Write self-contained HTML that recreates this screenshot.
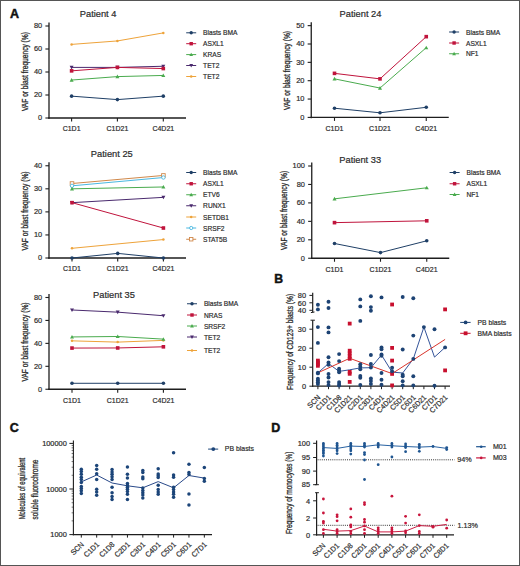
<!DOCTYPE html>
<html><head><meta charset="utf-8"><style>
html,body{margin:0;padding:0;background:#fff;}
#f{position:relative;width:520px;height:566px;overflow:hidden;}
#b{position:absolute;left:0;top:0;width:518px;height:564px;border:1px solid #555;}
svg{position:absolute;left:0;top:0;}
text{font-family:"Liberation Sans", sans-serif;}
</style></head><body><div id="f">
<svg width="520" height="566" viewBox="0 0 520 566">
<text x="0" y="0" font-size="12.5" text-anchor="start" font-weight="bold" fill="#111" transform="translate(10.00 18.20)" stroke="#111" stroke-width="0.45">A</text>
<text x="0" y="0" font-size="12.2" text-anchor="start" font-weight="bold" fill="#111" transform="translate(274.30 283.40)" stroke="#111" stroke-width="0.45">B</text>
<text x="0" y="0" font-size="12.5" text-anchor="start" font-weight="bold" fill="#111" transform="translate(9.80 431.60)" stroke="#111" stroke-width="0.45">C</text>
<text x="0" y="0" font-size="12.5" text-anchor="start" font-weight="bold" fill="#111" transform="translate(271.30 431.50)" stroke="#111" stroke-width="0.45">D</text>
<text x="0" y="0" font-size="9.3" text-anchor="middle" font-weight="normal" fill="#2b2b2b" transform="translate(98.10 16.90)" stroke="#2b2b2b" stroke-width="0.2">Patient 4</text>
<line x1="49.00" y1="22.60" x2="49.00" y2="118.75" stroke="#1e1e1e" stroke-width="1.3"/>
<line x1="45.40" y1="118.00" x2="49.00" y2="118.00" stroke="#1e1e1e" stroke-width="1.1"/>
<text x="0" y="0" font-size="8.0" text-anchor="end" font-weight="normal" fill="#2b2b2b" transform="translate(42.20 120.40) scale(0.93 1)" stroke="#2b2b2b" stroke-width="0.2">0</text>
<line x1="45.40" y1="95.00" x2="49.00" y2="95.00" stroke="#1e1e1e" stroke-width="1.1"/>
<text x="0" y="0" font-size="8.0" text-anchor="end" font-weight="normal" fill="#2b2b2b" transform="translate(42.20 97.40) scale(0.93 1)" stroke="#2b2b2b" stroke-width="0.2">20</text>
<line x1="45.40" y1="72.00" x2="49.00" y2="72.00" stroke="#1e1e1e" stroke-width="1.1"/>
<text x="0" y="0" font-size="8.0" text-anchor="end" font-weight="normal" fill="#2b2b2b" transform="translate(42.20 74.40) scale(0.93 1)" stroke="#2b2b2b" stroke-width="0.2">40</text>
<line x1="45.40" y1="49.00" x2="49.00" y2="49.00" stroke="#1e1e1e" stroke-width="1.1"/>
<text x="0" y="0" font-size="8.0" text-anchor="end" font-weight="normal" fill="#2b2b2b" transform="translate(42.20 51.40) scale(0.93 1)" stroke="#2b2b2b" stroke-width="0.2">60</text>
<line x1="45.40" y1="26.00" x2="49.00" y2="26.00" stroke="#1e1e1e" stroke-width="1.1"/>
<text x="0" y="0" font-size="8.0" text-anchor="end" font-weight="normal" fill="#2b2b2b" transform="translate(42.20 28.40) scale(0.93 1)" stroke="#2b2b2b" stroke-width="0.2">80</text>
<line x1="48.35" y1="118.00" x2="186.00" y2="118.00" stroke="#1e1e1e" stroke-width="1.3"/>
<line x1="71.60" y1="118.00" x2="71.60" y2="121.50" stroke="#1e1e1e" stroke-width="1.1"/>
<text x="0" y="0" font-size="7.7" text-anchor="middle" font-weight="normal" fill="#2b2b2b" transform="translate(71.60 131.30) scale(0.91 1)" stroke="#2b2b2b" stroke-width="0.2">C1D1</text>
<line x1="117.40" y1="118.00" x2="117.40" y2="121.50" stroke="#1e1e1e" stroke-width="1.1"/>
<text x="0" y="0" font-size="7.7" text-anchor="middle" font-weight="normal" fill="#2b2b2b" transform="translate(117.40 131.30) scale(0.91 1)" stroke="#2b2b2b" stroke-width="0.2">C1D21</text>
<line x1="163.30" y1="118.00" x2="163.30" y2="121.50" stroke="#1e1e1e" stroke-width="1.1"/>
<text x="0" y="0" font-size="7.7" text-anchor="middle" font-weight="normal" fill="#2b2b2b" transform="translate(163.30 131.30) scale(0.91 1)" stroke="#2b2b2b" stroke-width="0.2">C4D21</text>
<text x="0" y="0" font-size="8.3" text-anchor="middle" font-weight="normal" fill="#2b2b2b" transform="translate(27.60 71.60) rotate(-90)" textLength="79.00" lengthAdjust="spacingAndGlyphs" stroke="#2b2b2b" stroke-width="0.3">VAF or blast frequency (%)</text>
<polyline points="71.60,44.40 117.40,40.95 163.30,32.90" fill="none" stroke="#eea33a" stroke-width="1.0" stroke-linejoin="round"/>
<circle cx="71.60" cy="44.40" r="1.26" fill="#eea33a"/>
<circle cx="117.40" cy="40.95" r="1.26" fill="#eea33a"/>
<circle cx="163.30" cy="32.90" r="1.26" fill="#eea33a"/>
<polyline points="71.60,67.40 117.40,67.40 163.30,66.25" fill="none" stroke="#4a2a6e" stroke-width="1.0" stroke-linejoin="round"/>
<polygon points="71.60,69.40 73.60,65.80 69.60,65.80" fill="#4a2a6e"/>
<polygon points="117.40,69.40 119.40,65.80 115.40,65.80" fill="#4a2a6e"/>
<polygon points="163.30,68.25 165.30,64.65 161.30,64.65" fill="#4a2a6e"/>
<polyline points="71.60,80.05 117.40,76.60 163.30,75.45" fill="none" stroke="#4aab4e" stroke-width="1.0" stroke-linejoin="round"/>
<polygon points="71.60,78.05 73.60,81.65 69.60,81.65" fill="#4aab4e"/>
<polygon points="117.40,74.60 119.40,78.20 115.40,78.20" fill="#4aab4e"/>
<polygon points="163.30,73.45 165.30,77.05 161.30,77.05" fill="#4aab4e"/>
<polyline points="71.60,70.85 117.40,67.40 163.30,68.55" fill="none" stroke="#c0143c" stroke-width="1.0" stroke-linejoin="round"/>
<rect x="69.80" y="69.05" width="3.60" height="3.60" fill="#c0143c"/>
<rect x="115.60" y="65.60" width="3.60" height="3.60" fill="#c0143c"/>
<rect x="161.50" y="66.75" width="3.60" height="3.60" fill="#c0143c"/>
<polyline points="71.60,96.15 117.40,99.60 163.30,96.15" fill="none" stroke="#1f3f66" stroke-width="1.0" stroke-linejoin="round"/>
<circle cx="71.60" cy="96.15" r="1.80" fill="#1f3f66"/>
<circle cx="117.40" cy="99.60" r="1.80" fill="#1f3f66"/>
<circle cx="163.30" cy="96.15" r="1.80" fill="#1f3f66"/>
<line x1="186.20" y1="32.80" x2="196.20" y2="32.80" stroke="#1f3f66" stroke-width="1.0"/>
<circle cx="191.20" cy="32.80" r="1.71" fill="#1f3f66"/>
<text x="0" y="0" font-size="7.3" text-anchor="start" font-weight="normal" fill="#2b2b2b" transform="translate(203.10 35.40) scale(0.91 1)" stroke="#2b2b2b" stroke-width="0.2">Blasts BMA</text>
<line x1="186.20" y1="43.70" x2="196.20" y2="43.70" stroke="#c0143c" stroke-width="1.0"/>
<rect x="189.49" y="41.99" width="3.42" height="3.42" fill="#c0143c"/>
<text x="0" y="0" font-size="7.3" text-anchor="start" font-weight="normal" fill="#2b2b2b" transform="translate(203.10 46.30) scale(0.91 1)" stroke="#2b2b2b" stroke-width="0.2">ASXL1</text>
<line x1="186.20" y1="54.60" x2="196.20" y2="54.60" stroke="#4aab4e" stroke-width="1.0"/>
<polygon points="191.20,52.70 193.10,56.12 189.30,56.12" fill="#4aab4e"/>
<text x="0" y="0" font-size="7.3" text-anchor="start" font-weight="normal" fill="#2b2b2b" transform="translate(203.10 57.20) scale(0.91 1)" stroke="#2b2b2b" stroke-width="0.2">KRAS</text>
<line x1="186.20" y1="65.50" x2="196.20" y2="65.50" stroke="#4a2a6e" stroke-width="1.0"/>
<polygon points="191.20,67.40 193.10,63.98 189.30,63.98" fill="#4a2a6e"/>
<text x="0" y="0" font-size="7.3" text-anchor="start" font-weight="normal" fill="#2b2b2b" transform="translate(203.10 68.10) scale(0.91 1)" stroke="#2b2b2b" stroke-width="0.2">TET2</text>
<line x1="186.20" y1="76.50" x2="196.20" y2="76.50" stroke="#eea33a" stroke-width="1.0"/>
<circle cx="191.20" cy="76.50" r="1.26" fill="#eea33a"/>
<text x="0" y="0" font-size="7.3" text-anchor="start" font-weight="normal" fill="#2b2b2b" transform="translate(203.10 79.10) scale(0.91 1)" stroke="#2b2b2b" stroke-width="0.2">TET2</text>
<text x="0" y="0" font-size="9.3" text-anchor="middle" font-weight="normal" fill="#2b2b2b" transform="translate(360.50 17.00)" stroke="#2b2b2b" stroke-width="0.2">Patient 24</text>
<line x1="311.25" y1="22.25" x2="311.25" y2="118.15" stroke="#1e1e1e" stroke-width="1.3"/>
<line x1="307.65" y1="117.40" x2="311.25" y2="117.40" stroke="#1e1e1e" stroke-width="1.1"/>
<text x="0" y="0" font-size="8.0" text-anchor="end" font-weight="normal" fill="#2b2b2b" transform="translate(304.45 119.80) scale(0.93 1)" stroke="#2b2b2b" stroke-width="0.2">0</text>
<line x1="307.65" y1="99.05" x2="311.25" y2="99.05" stroke="#1e1e1e" stroke-width="1.1"/>
<text x="0" y="0" font-size="8.0" text-anchor="end" font-weight="normal" fill="#2b2b2b" transform="translate(304.45 101.45) scale(0.93 1)" stroke="#2b2b2b" stroke-width="0.2">10</text>
<line x1="307.65" y1="80.70" x2="311.25" y2="80.70" stroke="#1e1e1e" stroke-width="1.1"/>
<text x="0" y="0" font-size="8.0" text-anchor="end" font-weight="normal" fill="#2b2b2b" transform="translate(304.45 83.10) scale(0.93 1)" stroke="#2b2b2b" stroke-width="0.2">20</text>
<line x1="307.65" y1="62.35" x2="311.25" y2="62.35" stroke="#1e1e1e" stroke-width="1.1"/>
<text x="0" y="0" font-size="8.0" text-anchor="end" font-weight="normal" fill="#2b2b2b" transform="translate(304.45 64.75) scale(0.93 1)" stroke="#2b2b2b" stroke-width="0.2">30</text>
<line x1="307.65" y1="44.00" x2="311.25" y2="44.00" stroke="#1e1e1e" stroke-width="1.1"/>
<text x="0" y="0" font-size="8.0" text-anchor="end" font-weight="normal" fill="#2b2b2b" transform="translate(304.45 46.40) scale(0.93 1)" stroke="#2b2b2b" stroke-width="0.2">40</text>
<line x1="307.65" y1="25.65" x2="311.25" y2="25.65" stroke="#1e1e1e" stroke-width="1.1"/>
<text x="0" y="0" font-size="8.0" text-anchor="end" font-weight="normal" fill="#2b2b2b" transform="translate(304.45 28.05) scale(0.93 1)" stroke="#2b2b2b" stroke-width="0.2">50</text>
<line x1="310.60" y1="117.40" x2="448.75" y2="117.40" stroke="#1e1e1e" stroke-width="1.3"/>
<line x1="334.50" y1="117.40" x2="334.50" y2="120.90" stroke="#1e1e1e" stroke-width="1.1"/>
<text x="0" y="0" font-size="7.7" text-anchor="middle" font-weight="normal" fill="#2b2b2b" transform="translate(334.50 130.70) scale(0.91 1)" stroke="#2b2b2b" stroke-width="0.2">C1D1</text>
<line x1="380.00" y1="117.40" x2="380.00" y2="120.90" stroke="#1e1e1e" stroke-width="1.1"/>
<text x="0" y="0" font-size="7.7" text-anchor="middle" font-weight="normal" fill="#2b2b2b" transform="translate(380.00 130.70) scale(0.91 1)" stroke="#2b2b2b" stroke-width="0.2">C1D21</text>
<line x1="426.25" y1="117.40" x2="426.25" y2="120.90" stroke="#1e1e1e" stroke-width="1.1"/>
<text x="0" y="0" font-size="7.7" text-anchor="middle" font-weight="normal" fill="#2b2b2b" transform="translate(426.25 130.70) scale(0.91 1)" stroke="#2b2b2b" stroke-width="0.2">C4D21</text>
<text x="0" y="0" font-size="8.3" text-anchor="middle" font-weight="normal" fill="#2b2b2b" transform="translate(290.00 70.50) rotate(-90)" textLength="79.00" lengthAdjust="spacingAndGlyphs" stroke="#2b2b2b" stroke-width="0.3">VAF or blast frequency (%)</text>
<polyline points="334.50,78.87 380.00,88.04 426.25,47.67" fill="none" stroke="#4aab4e" stroke-width="1.0" stroke-linejoin="round"/>
<polygon points="334.50,76.87 336.50,80.47 332.50,80.47" fill="#4aab4e"/>
<polygon points="380.00,86.04 382.00,89.64 378.00,89.64" fill="#4aab4e"/>
<polygon points="426.25,45.67 428.25,49.27 424.25,49.27" fill="#4aab4e"/>
<polyline points="334.50,73.36 380.00,78.87 426.25,36.66" fill="none" stroke="#c0143c" stroke-width="1.0" stroke-linejoin="round"/>
<rect x="332.70" y="71.56" width="3.60" height="3.60" fill="#c0143c"/>
<rect x="378.20" y="77.07" width="3.60" height="3.60" fill="#c0143c"/>
<rect x="424.45" y="34.86" width="3.60" height="3.60" fill="#c0143c"/>
<polyline points="334.50,108.23 380.00,112.81 426.25,107.31" fill="none" stroke="#1f3f66" stroke-width="1.0" stroke-linejoin="round"/>
<circle cx="334.50" cy="108.23" r="1.80" fill="#1f3f66"/>
<circle cx="380.00" cy="112.81" r="1.80" fill="#1f3f66"/>
<circle cx="426.25" cy="107.31" r="1.80" fill="#1f3f66"/>
<line x1="449.10" y1="32.00" x2="459.10" y2="32.00" stroke="#1f3f66" stroke-width="1.0"/>
<circle cx="454.10" cy="32.00" r="1.71" fill="#1f3f66"/>
<text x="0" y="0" font-size="7.3" text-anchor="start" font-weight="normal" fill="#2b2b2b" transform="translate(466.00 34.60) scale(0.91 1)" stroke="#2b2b2b" stroke-width="0.2">Blasts BMA</text>
<line x1="449.10" y1="43.00" x2="459.10" y2="43.00" stroke="#c0143c" stroke-width="1.0"/>
<rect x="452.39" y="41.29" width="3.42" height="3.42" fill="#c0143c"/>
<text x="0" y="0" font-size="7.3" text-anchor="start" font-weight="normal" fill="#2b2b2b" transform="translate(466.00 45.60) scale(0.91 1)" stroke="#2b2b2b" stroke-width="0.2">ASXL1</text>
<line x1="449.10" y1="53.75" x2="459.10" y2="53.75" stroke="#4aab4e" stroke-width="1.0"/>
<polygon points="454.10,51.85 456.00,55.27 452.20,55.27" fill="#4aab4e"/>
<text x="0" y="0" font-size="7.3" text-anchor="start" font-weight="normal" fill="#2b2b2b" transform="translate(466.00 56.35) scale(0.91 1)" stroke="#2b2b2b" stroke-width="0.2">NF1</text>
<text x="0" y="0" font-size="9.3" text-anchor="middle" font-weight="normal" fill="#2b2b2b" transform="translate(111.80 157.20)" stroke="#2b2b2b" stroke-width="0.2">Patient 25</text>
<line x1="49.00" y1="162.36" x2="49.00" y2="258.75" stroke="#1e1e1e" stroke-width="1.3"/>
<line x1="45.40" y1="258.00" x2="49.00" y2="258.00" stroke="#1e1e1e" stroke-width="1.1"/>
<text x="0" y="0" font-size="8.0" text-anchor="end" font-weight="normal" fill="#2b2b2b" transform="translate(42.20 260.40) scale(0.93 1)" stroke="#2b2b2b" stroke-width="0.2">0</text>
<line x1="45.40" y1="234.94" x2="49.00" y2="234.94" stroke="#1e1e1e" stroke-width="1.1"/>
<text x="0" y="0" font-size="8.0" text-anchor="end" font-weight="normal" fill="#2b2b2b" transform="translate(42.20 237.34) scale(0.93 1)" stroke="#2b2b2b" stroke-width="0.2">10</text>
<line x1="45.40" y1="211.88" x2="49.00" y2="211.88" stroke="#1e1e1e" stroke-width="1.1"/>
<text x="0" y="0" font-size="8.0" text-anchor="end" font-weight="normal" fill="#2b2b2b" transform="translate(42.20 214.28) scale(0.93 1)" stroke="#2b2b2b" stroke-width="0.2">20</text>
<line x1="45.40" y1="188.82" x2="49.00" y2="188.82" stroke="#1e1e1e" stroke-width="1.1"/>
<text x="0" y="0" font-size="8.0" text-anchor="end" font-weight="normal" fill="#2b2b2b" transform="translate(42.20 191.22) scale(0.93 1)" stroke="#2b2b2b" stroke-width="0.2">30</text>
<line x1="45.40" y1="165.76" x2="49.00" y2="165.76" stroke="#1e1e1e" stroke-width="1.1"/>
<text x="0" y="0" font-size="8.0" text-anchor="end" font-weight="normal" fill="#2b2b2b" transform="translate(42.20 168.16) scale(0.93 1)" stroke="#2b2b2b" stroke-width="0.2">40</text>
<line x1="48.35" y1="258.00" x2="186.00" y2="258.00" stroke="#1e1e1e" stroke-width="1.3"/>
<line x1="72.00" y1="258.00" x2="72.00" y2="261.50" stroke="#1e1e1e" stroke-width="1.1"/>
<text x="0" y="0" font-size="7.7" text-anchor="middle" font-weight="normal" fill="#2b2b2b" transform="translate(72.00 271.30) scale(0.91 1)" stroke="#2b2b2b" stroke-width="0.2">C1D1</text>
<line x1="117.70" y1="258.00" x2="117.70" y2="261.50" stroke="#1e1e1e" stroke-width="1.1"/>
<text x="0" y="0" font-size="7.7" text-anchor="middle" font-weight="normal" fill="#2b2b2b" transform="translate(117.70 271.30) scale(0.91 1)" stroke="#2b2b2b" stroke-width="0.2">C1D21</text>
<line x1="163.40" y1="258.00" x2="163.40" y2="261.50" stroke="#1e1e1e" stroke-width="1.1"/>
<text x="0" y="0" font-size="7.7" text-anchor="middle" font-weight="normal" fill="#2b2b2b" transform="translate(163.40 271.30) scale(0.91 1)" stroke="#2b2b2b" stroke-width="0.2">C4D21</text>
<text x="0" y="0" font-size="8.3" text-anchor="middle" font-weight="normal" fill="#2b2b2b" transform="translate(27.70 211.00) rotate(-90)" textLength="79.00" lengthAdjust="spacingAndGlyphs" stroke="#2b2b2b" stroke-width="0.3">VAF or blast frequency (%)</text>
<polyline points="72.00,183.52 163.40,175.45" fill="none" stroke="#d0884a" stroke-width="1.0" stroke-linejoin="round"/>
<rect x="70.20" y="181.72" width="3.60" height="3.60" fill="#fff" stroke="#d0884a" stroke-width="0.9"/>
<rect x="161.60" y="173.65" width="3.60" height="3.60" fill="#fff" stroke="#d0884a" stroke-width="0.9"/>
<polyline points="72.00,185.82 163.40,177.52" fill="none" stroke="#4ab8e0" stroke-width="1.0" stroke-linejoin="round"/>
<circle cx="72.00" cy="185.82" r="1.70" fill="#fff" stroke="#4ab8e0" stroke-width="0.9"/>
<circle cx="163.40" cy="177.52" r="1.70" fill="#fff" stroke="#4ab8e0" stroke-width="0.9"/>
<polyline points="72.00,248.31 163.40,239.55" fill="none" stroke="#eea33a" stroke-width="1.0" stroke-linejoin="round"/>
<circle cx="72.00" cy="248.31" r="1.26" fill="#eea33a"/>
<circle cx="163.40" cy="239.55" r="1.26" fill="#eea33a"/>
<polyline points="72.00,202.66 163.40,197.35" fill="none" stroke="#4a2a6e" stroke-width="1.0" stroke-linejoin="round"/>
<polygon points="72.00,204.66 74.00,201.06 70.00,201.06" fill="#4a2a6e"/>
<polygon points="163.40,199.35 165.40,195.75 161.40,195.75" fill="#4a2a6e"/>
<polyline points="72.00,188.82 163.40,186.98" fill="none" stroke="#4aab4e" stroke-width="1.0" stroke-linejoin="round"/>
<polygon points="72.00,186.82 74.00,190.42 70.00,190.42" fill="#4aab4e"/>
<polygon points="163.40,184.98 165.40,188.58 161.40,188.58" fill="#4aab4e"/>
<polyline points="72.00,202.66 163.40,228.02" fill="none" stroke="#c0143c" stroke-width="1.0" stroke-linejoin="round"/>
<rect x="70.20" y="200.86" width="3.60" height="3.60" fill="#c0143c"/>
<rect x="161.60" y="226.22" width="3.60" height="3.60" fill="#c0143c"/>
<polyline points="72.00,258.00 117.70,253.39 163.40,258.00" fill="none" stroke="#1f3f66" stroke-width="1.0" stroke-linejoin="round"/>
<circle cx="72.00" cy="258.00" r="1.80" fill="#1f3f66"/>
<circle cx="117.70" cy="253.39" r="1.80" fill="#1f3f66"/>
<circle cx="163.40" cy="258.00" r="1.80" fill="#1f3f66"/>
<line x1="186.20" y1="172.50" x2="196.20" y2="172.50" stroke="#1f3f66" stroke-width="1.0"/>
<circle cx="191.20" cy="172.50" r="1.71" fill="#1f3f66"/>
<text x="0" y="0" font-size="7.3" text-anchor="start" font-weight="normal" fill="#2b2b2b" transform="translate(203.10 175.10) scale(0.91 1)" stroke="#2b2b2b" stroke-width="0.2">Blasts BMA</text>
<line x1="186.20" y1="183.75" x2="196.20" y2="183.75" stroke="#c0143c" stroke-width="1.0"/>
<rect x="189.49" y="182.04" width="3.42" height="3.42" fill="#c0143c"/>
<text x="0" y="0" font-size="7.3" text-anchor="start" font-weight="normal" fill="#2b2b2b" transform="translate(203.10 186.35) scale(0.91 1)" stroke="#2b2b2b" stroke-width="0.2">ASXL1</text>
<line x1="186.20" y1="194.75" x2="196.20" y2="194.75" stroke="#4aab4e" stroke-width="1.0"/>
<polygon points="191.20,192.85 193.10,196.27 189.30,196.27" fill="#4aab4e"/>
<text x="0" y="0" font-size="7.3" text-anchor="start" font-weight="normal" fill="#2b2b2b" transform="translate(203.10 197.35) scale(0.91 1)" stroke="#2b2b2b" stroke-width="0.2">ETV6</text>
<line x1="186.20" y1="205.75" x2="196.20" y2="205.75" stroke="#4a2a6e" stroke-width="1.0"/>
<polygon points="191.20,207.65 193.10,204.23 189.30,204.23" fill="#4a2a6e"/>
<text x="0" y="0" font-size="7.3" text-anchor="start" font-weight="normal" fill="#2b2b2b" transform="translate(203.10 208.35) scale(0.91 1)" stroke="#2b2b2b" stroke-width="0.2">RUNX1</text>
<line x1="186.20" y1="217.00" x2="196.20" y2="217.00" stroke="#eea33a" stroke-width="1.0"/>
<circle cx="191.20" cy="217.00" r="1.26" fill="#eea33a"/>
<text x="0" y="0" font-size="7.3" text-anchor="start" font-weight="normal" fill="#2b2b2b" transform="translate(203.10 219.60) scale(0.91 1)" stroke="#2b2b2b" stroke-width="0.2">SETDB1</text>
<line x1="186.20" y1="228.00" x2="196.20" y2="228.00" stroke="#4ab8e0" stroke-width="1.0"/>
<circle cx="191.20" cy="228.00" r="1.61" fill="#fff" stroke="#4ab8e0" stroke-width="0.9"/>
<text x="0" y="0" font-size="7.3" text-anchor="start" font-weight="normal" fill="#2b2b2b" transform="translate(203.10 230.60) scale(0.91 1)" stroke="#2b2b2b" stroke-width="0.2">SRSF2</text>
<line x1="186.20" y1="239.25" x2="196.20" y2="239.25" stroke="#d0884a" stroke-width="1.0"/>
<rect x="189.49" y="237.54" width="3.42" height="3.42" fill="#fff" stroke="#d0884a" stroke-width="0.9"/>
<text x="0" y="0" font-size="7.3" text-anchor="start" font-weight="normal" fill="#2b2b2b" transform="translate(203.10 241.85) scale(0.91 1)" stroke="#2b2b2b" stroke-width="0.2">STAT5B</text>
<text x="0" y="0" font-size="9.3" text-anchor="middle" font-weight="normal" fill="#2b2b2b" transform="translate(360.20 163.20)" stroke="#2b2b2b" stroke-width="0.2">Patient 33</text>
<line x1="311.75" y1="162.60" x2="311.75" y2="259.00" stroke="#1e1e1e" stroke-width="1.3"/>
<line x1="308.15" y1="258.25" x2="311.75" y2="258.25" stroke="#1e1e1e" stroke-width="1.1"/>
<text x="0" y="0" font-size="8.0" text-anchor="end" font-weight="normal" fill="#2b2b2b" transform="translate(304.95 260.65) scale(0.93 1)" stroke="#2b2b2b" stroke-width="0.2">0</text>
<line x1="308.15" y1="239.80" x2="311.75" y2="239.80" stroke="#1e1e1e" stroke-width="1.1"/>
<text x="0" y="0" font-size="8.0" text-anchor="end" font-weight="normal" fill="#2b2b2b" transform="translate(304.95 242.20) scale(0.93 1)" stroke="#2b2b2b" stroke-width="0.2">20</text>
<line x1="308.15" y1="221.35" x2="311.75" y2="221.35" stroke="#1e1e1e" stroke-width="1.1"/>
<text x="0" y="0" font-size="8.0" text-anchor="end" font-weight="normal" fill="#2b2b2b" transform="translate(304.95 223.75) scale(0.93 1)" stroke="#2b2b2b" stroke-width="0.2">40</text>
<line x1="308.15" y1="202.90" x2="311.75" y2="202.90" stroke="#1e1e1e" stroke-width="1.1"/>
<text x="0" y="0" font-size="8.0" text-anchor="end" font-weight="normal" fill="#2b2b2b" transform="translate(304.95 205.30) scale(0.93 1)" stroke="#2b2b2b" stroke-width="0.2">60</text>
<line x1="308.15" y1="184.45" x2="311.75" y2="184.45" stroke="#1e1e1e" stroke-width="1.1"/>
<text x="0" y="0" font-size="8.0" text-anchor="end" font-weight="normal" fill="#2b2b2b" transform="translate(304.95 186.85) scale(0.93 1)" stroke="#2b2b2b" stroke-width="0.2">80</text>
<line x1="308.15" y1="166.00" x2="311.75" y2="166.00" stroke="#1e1e1e" stroke-width="1.1"/>
<text x="0" y="0" font-size="8.0" text-anchor="end" font-weight="normal" fill="#2b2b2b" transform="translate(304.95 168.40) scale(0.93 1)" stroke="#2b2b2b" stroke-width="0.2">100</text>
<line x1="311.10" y1="258.25" x2="449.25" y2="258.25" stroke="#1e1e1e" stroke-width="1.3"/>
<line x1="334.50" y1="258.25" x2="334.50" y2="261.75" stroke="#1e1e1e" stroke-width="1.1"/>
<text x="0" y="0" font-size="7.7" text-anchor="middle" font-weight="normal" fill="#2b2b2b" transform="translate(334.50 271.55) scale(0.91 1)" stroke="#2b2b2b" stroke-width="0.2">C1D1</text>
<line x1="380.50" y1="258.25" x2="380.50" y2="261.75" stroke="#1e1e1e" stroke-width="1.1"/>
<text x="0" y="0" font-size="7.7" text-anchor="middle" font-weight="normal" fill="#2b2b2b" transform="translate(380.50 271.55) scale(0.91 1)" stroke="#2b2b2b" stroke-width="0.2">C1D21</text>
<line x1="426.75" y1="258.25" x2="426.75" y2="261.75" stroke="#1e1e1e" stroke-width="1.1"/>
<text x="0" y="0" font-size="7.7" text-anchor="middle" font-weight="normal" fill="#2b2b2b" transform="translate(426.75 271.55) scale(0.91 1)" stroke="#2b2b2b" stroke-width="0.2">C4D21</text>
<text x="0" y="0" font-size="8.3" text-anchor="middle" font-weight="normal" fill="#2b2b2b" transform="translate(287.00 210.40) rotate(-90)" textLength="79.00" lengthAdjust="spacingAndGlyphs" stroke="#2b2b2b" stroke-width="0.3">VAF or blast frequency (%)</text>
<polyline points="334.50,198.84 426.75,187.77" fill="none" stroke="#4aab4e" stroke-width="1.0" stroke-linejoin="round"/>
<polygon points="334.50,196.84 336.50,200.44 332.50,200.44" fill="#4aab4e"/>
<polygon points="426.75,185.77 428.75,189.37 424.75,189.37" fill="#4aab4e"/>
<polyline points="334.50,222.64 426.75,220.80" fill="none" stroke="#c0143c" stroke-width="1.0" stroke-linejoin="round"/>
<rect x="332.70" y="220.84" width="3.60" height="3.60" fill="#c0143c"/>
<rect x="424.95" y="219.00" width="3.60" height="3.60" fill="#c0143c"/>
<polyline points="334.50,243.49 380.50,252.62 426.75,240.81" fill="none" stroke="#1f3f66" stroke-width="1.0" stroke-linejoin="round"/>
<circle cx="334.50" cy="243.49" r="1.80" fill="#1f3f66"/>
<circle cx="380.50" cy="252.62" r="1.80" fill="#1f3f66"/>
<circle cx="426.75" cy="240.81" r="1.80" fill="#1f3f66"/>
<line x1="449.60" y1="172.50" x2="459.60" y2="172.50" stroke="#1f3f66" stroke-width="1.0"/>
<circle cx="454.60" cy="172.50" r="1.71" fill="#1f3f66"/>
<text x="0" y="0" font-size="7.3" text-anchor="start" font-weight="normal" fill="#2b2b2b" transform="translate(466.50 175.10) scale(0.91 1)" stroke="#2b2b2b" stroke-width="0.2">Blasts BMA</text>
<line x1="449.60" y1="183.75" x2="459.60" y2="183.75" stroke="#c0143c" stroke-width="1.0"/>
<rect x="452.89" y="182.04" width="3.42" height="3.42" fill="#c0143c"/>
<text x="0" y="0" font-size="7.3" text-anchor="start" font-weight="normal" fill="#2b2b2b" transform="translate(466.50 186.35) scale(0.91 1)" stroke="#2b2b2b" stroke-width="0.2">ASXL1</text>
<line x1="449.60" y1="194.50" x2="459.60" y2="194.50" stroke="#4aab4e" stroke-width="1.0"/>
<polygon points="454.60,192.60 456.50,196.02 452.70,196.02" fill="#4aab4e"/>
<text x="0" y="0" font-size="7.3" text-anchor="start" font-weight="normal" fill="#2b2b2b" transform="translate(466.50 197.10) scale(0.91 1)" stroke="#2b2b2b" stroke-width="0.2">NF1</text>
<text x="0" y="0" font-size="9.3" text-anchor="middle" font-weight="normal" fill="#2b2b2b" transform="translate(114.00 297.50)" stroke="#2b2b2b" stroke-width="0.2">Patient 35</text>
<line x1="49.00" y1="294.09" x2="49.00" y2="390.00" stroke="#1e1e1e" stroke-width="1.3"/>
<line x1="45.40" y1="389.25" x2="49.00" y2="389.25" stroke="#1e1e1e" stroke-width="1.1"/>
<text x="0" y="0" font-size="8.0" text-anchor="end" font-weight="normal" fill="#2b2b2b" transform="translate(42.20 391.65) scale(0.93 1)" stroke="#2b2b2b" stroke-width="0.2">0</text>
<line x1="45.40" y1="366.31" x2="49.00" y2="366.31" stroke="#1e1e1e" stroke-width="1.1"/>
<text x="0" y="0" font-size="8.0" text-anchor="end" font-weight="normal" fill="#2b2b2b" transform="translate(42.20 368.71) scale(0.93 1)" stroke="#2b2b2b" stroke-width="0.2">20</text>
<line x1="45.40" y1="343.37" x2="49.00" y2="343.37" stroke="#1e1e1e" stroke-width="1.1"/>
<text x="0" y="0" font-size="8.0" text-anchor="end" font-weight="normal" fill="#2b2b2b" transform="translate(42.20 345.77) scale(0.93 1)" stroke="#2b2b2b" stroke-width="0.2">40</text>
<line x1="45.40" y1="320.43" x2="49.00" y2="320.43" stroke="#1e1e1e" stroke-width="1.1"/>
<text x="0" y="0" font-size="8.0" text-anchor="end" font-weight="normal" fill="#2b2b2b" transform="translate(42.20 322.83) scale(0.93 1)" stroke="#2b2b2b" stroke-width="0.2">60</text>
<line x1="45.40" y1="297.49" x2="49.00" y2="297.49" stroke="#1e1e1e" stroke-width="1.1"/>
<text x="0" y="0" font-size="8.0" text-anchor="end" font-weight="normal" fill="#2b2b2b" transform="translate(42.20 299.89) scale(0.93 1)" stroke="#2b2b2b" stroke-width="0.2">80</text>
<line x1="48.35" y1="389.25" x2="186.00" y2="389.25" stroke="#1e1e1e" stroke-width="1.3"/>
<line x1="72.00" y1="389.25" x2="72.00" y2="392.75" stroke="#1e1e1e" stroke-width="1.1"/>
<text x="0" y="0" font-size="7.7" text-anchor="middle" font-weight="normal" fill="#2b2b2b" transform="translate(72.00 402.55) scale(0.91 1)" stroke="#2b2b2b" stroke-width="0.2">C1D1</text>
<line x1="117.70" y1="389.25" x2="117.70" y2="392.75" stroke="#1e1e1e" stroke-width="1.1"/>
<text x="0" y="0" font-size="7.7" text-anchor="middle" font-weight="normal" fill="#2b2b2b" transform="translate(117.70 402.55) scale(0.91 1)" stroke="#2b2b2b" stroke-width="0.2">C1D21</text>
<line x1="163.40" y1="389.25" x2="163.40" y2="392.75" stroke="#1e1e1e" stroke-width="1.1"/>
<text x="0" y="0" font-size="7.7" text-anchor="middle" font-weight="normal" fill="#2b2b2b" transform="translate(163.40 402.55) scale(0.91 1)" stroke="#2b2b2b" stroke-width="0.2">C4D21</text>
<text x="0" y="0" font-size="8.3" text-anchor="middle" font-weight="normal" fill="#2b2b2b" transform="translate(27.70 342.00) rotate(-90)" textLength="79.00" lengthAdjust="spacingAndGlyphs" stroke="#2b2b2b" stroke-width="0.3">VAF or blast frequency (%)</text>
<polyline points="72.00,340.85 117.70,342.11 163.40,340.39" fill="none" stroke="#eea33a" stroke-width="1.0" stroke-linejoin="round"/>
<circle cx="72.00" cy="340.85" r="1.26" fill="#eea33a"/>
<circle cx="117.70" cy="342.11" r="1.26" fill="#eea33a"/>
<circle cx="163.40" cy="340.39" r="1.26" fill="#eea33a"/>
<polyline points="72.00,309.99 117.70,312.17 163.40,315.73" fill="none" stroke="#4a2a6e" stroke-width="1.0" stroke-linejoin="round"/>
<polygon points="72.00,311.99 74.00,308.39 70.00,308.39" fill="#4a2a6e"/>
<polygon points="117.70,314.17 119.70,310.57 115.70,310.57" fill="#4a2a6e"/>
<polygon points="163.40,317.73 165.40,314.13 161.40,314.13" fill="#4a2a6e"/>
<polyline points="72.00,336.95 117.70,336.49 163.40,339.13" fill="none" stroke="#4aab4e" stroke-width="1.0" stroke-linejoin="round"/>
<polygon points="72.00,334.95 74.00,338.55 70.00,338.55" fill="#4aab4e"/>
<polygon points="117.70,334.49 119.70,338.09 115.70,338.09" fill="#4aab4e"/>
<polygon points="163.40,337.13 165.40,340.73 161.40,340.73" fill="#4aab4e"/>
<polyline points="72.00,348.07 117.70,347.96 163.40,346.81" fill="none" stroke="#c0143c" stroke-width="1.0" stroke-linejoin="round"/>
<rect x="70.20" y="346.27" width="3.60" height="3.60" fill="#c0143c"/>
<rect x="115.90" y="346.16" width="3.60" height="3.60" fill="#c0143c"/>
<rect x="161.60" y="345.01" width="3.60" height="3.60" fill="#c0143c"/>
<polyline points="72.00,383.29 117.70,383.29 163.40,383.29" fill="none" stroke="#1f3f66" stroke-width="1.0" stroke-linejoin="round"/>
<circle cx="72.00" cy="383.29" r="1.80" fill="#1f3f66"/>
<circle cx="117.70" cy="383.29" r="1.80" fill="#1f3f66"/>
<circle cx="163.40" cy="383.29" r="1.80" fill="#1f3f66"/>
<line x1="187.00" y1="303.75" x2="197.00" y2="303.75" stroke="#1f3f66" stroke-width="1.0"/>
<circle cx="192.00" cy="303.75" r="1.71" fill="#1f3f66"/>
<text x="0" y="0" font-size="7.3" text-anchor="start" font-weight="normal" fill="#2b2b2b" transform="translate(203.90 306.35) scale(0.91 1)" stroke="#2b2b2b" stroke-width="0.2">Blasts BMA</text>
<line x1="187.00" y1="315.00" x2="197.00" y2="315.00" stroke="#c0143c" stroke-width="1.0"/>
<rect x="190.29" y="313.29" width="3.42" height="3.42" fill="#c0143c"/>
<text x="0" y="0" font-size="7.3" text-anchor="start" font-weight="normal" fill="#2b2b2b" transform="translate(203.90 317.60) scale(0.91 1)" stroke="#2b2b2b" stroke-width="0.2">NRAS</text>
<line x1="187.00" y1="326.00" x2="197.00" y2="326.00" stroke="#4aab4e" stroke-width="1.0"/>
<polygon points="192.00,324.10 193.90,327.52 190.10,327.52" fill="#4aab4e"/>
<text x="0" y="0" font-size="7.3" text-anchor="start" font-weight="normal" fill="#2b2b2b" transform="translate(203.90 328.60) scale(0.91 1)" stroke="#2b2b2b" stroke-width="0.2">SRSF2</text>
<line x1="187.00" y1="337.00" x2="197.00" y2="337.00" stroke="#4a2a6e" stroke-width="1.0"/>
<polygon points="192.00,338.90 193.90,335.48 190.10,335.48" fill="#4a2a6e"/>
<text x="0" y="0" font-size="7.3" text-anchor="start" font-weight="normal" fill="#2b2b2b" transform="translate(203.90 339.60) scale(0.91 1)" stroke="#2b2b2b" stroke-width="0.2">TET2</text>
<line x1="187.00" y1="350.50" x2="197.00" y2="350.50" stroke="#eea33a" stroke-width="1.0"/>
<circle cx="192.00" cy="350.50" r="1.26" fill="#eea33a"/>
<text x="0" y="0" font-size="7.3" text-anchor="start" font-weight="normal" fill="#2b2b2b" transform="translate(203.90 353.10) scale(0.91 1)" stroke="#2b2b2b" stroke-width="0.2">TET2</text>
<line x1="312.70" y1="292.80" x2="312.70" y2="312.30" stroke="#1e1e1e" stroke-width="1.2"/>
<line x1="310.90" y1="312.60" x2="314.50" y2="312.00" stroke="#1e1e1e" stroke-width="1.0"/>
<line x1="309.40" y1="295.40" x2="312.70" y2="295.40" stroke="#1e1e1e" stroke-width="1.0"/>
<text x="0" y="0" font-size="7.4" text-anchor="end" font-weight="normal" fill="#2b2b2b" transform="translate(306.10 298.10)" stroke="#2b2b2b" stroke-width="0.2">80</text>
<line x1="309.40" y1="302.80" x2="312.70" y2="302.80" stroke="#1e1e1e" stroke-width="1.0"/>
<text x="0" y="0" font-size="7.4" text-anchor="end" font-weight="normal" fill="#2b2b2b" transform="translate(306.10 305.50)" stroke="#2b2b2b" stroke-width="0.2">60</text>
<line x1="309.40" y1="310.30" x2="312.70" y2="310.30" stroke="#1e1e1e" stroke-width="1.0"/>
<text x="0" y="0" font-size="7.4" text-anchor="end" font-weight="normal" fill="#2b2b2b" transform="translate(306.10 313.00)" stroke="#2b2b2b" stroke-width="0.2">40</text>
<line x1="312.70" y1="320.20" x2="312.70" y2="386.80" stroke="#1e1e1e" stroke-width="1.2"/>
<line x1="310.50" y1="320.20" x2="314.90" y2="320.20" stroke="#1e1e1e" stroke-width="1.0"/>
<line x1="309.40" y1="386.20" x2="312.70" y2="386.20" stroke="#1e1e1e" stroke-width="1.0"/>
<text x="0" y="0" font-size="7.4" text-anchor="end" font-weight="normal" fill="#2b2b2b" transform="translate(306.10 388.90)" stroke="#2b2b2b" stroke-width="0.2">0</text>
<line x1="309.40" y1="367.20" x2="312.70" y2="367.20" stroke="#1e1e1e" stroke-width="1.0"/>
<text x="0" y="0" font-size="7.4" text-anchor="end" font-weight="normal" fill="#2b2b2b" transform="translate(306.10 369.90)" stroke="#2b2b2b" stroke-width="0.2">10</text>
<line x1="309.40" y1="348.20" x2="312.70" y2="348.20" stroke="#1e1e1e" stroke-width="1.0"/>
<text x="0" y="0" font-size="7.4" text-anchor="end" font-weight="normal" fill="#2b2b2b" transform="translate(306.10 350.90)" stroke="#2b2b2b" stroke-width="0.2">20</text>
<line x1="309.40" y1="329.20" x2="312.70" y2="329.20" stroke="#1e1e1e" stroke-width="1.0"/>
<text x="0" y="0" font-size="7.4" text-anchor="end" font-weight="normal" fill="#2b2b2b" transform="translate(306.10 331.90)" stroke="#2b2b2b" stroke-width="0.2">30</text>
<line x1="312.10" y1="386.20" x2="450.00" y2="386.20" stroke="#1e1e1e" stroke-width="1.2"/>
<line x1="317.90" y1="386.20" x2="317.90" y2="389.20" stroke="#1e1e1e" stroke-width="1.0"/>
<text x="0" y="0" font-size="7.4" text-anchor="end" font-weight="normal" fill="#2b2b2b" transform="translate(320.80 398.00) rotate(-45) scale(0.95 1)" stroke="#2b2b2b" stroke-width="0.2">SCN</text>
<line x1="328.50" y1="386.20" x2="328.50" y2="389.20" stroke="#1e1e1e" stroke-width="1.0"/>
<text x="0" y="0" font-size="7.4" text-anchor="end" font-weight="normal" fill="#2b2b2b" transform="translate(331.40 398.00) rotate(-45) scale(0.95 1)" stroke="#2b2b2b" stroke-width="0.2">C1D1</text>
<line x1="339.10" y1="386.20" x2="339.10" y2="389.20" stroke="#1e1e1e" stroke-width="1.0"/>
<text x="0" y="0" font-size="7.4" text-anchor="end" font-weight="normal" fill="#2b2b2b" transform="translate(342.00 398.00) rotate(-45) scale(0.95 1)" stroke="#2b2b2b" stroke-width="0.2">C1D8</text>
<line x1="349.70" y1="386.20" x2="349.70" y2="389.20" stroke="#1e1e1e" stroke-width="1.0"/>
<text x="0" y="0" font-size="7.4" text-anchor="end" font-weight="normal" fill="#2b2b2b" transform="translate(352.60 398.00) rotate(-45) scale(0.95 1)" stroke="#2b2b2b" stroke-width="0.2">C1D21</text>
<line x1="360.30" y1="386.20" x2="360.30" y2="389.20" stroke="#1e1e1e" stroke-width="1.0"/>
<text x="0" y="0" font-size="7.4" text-anchor="end" font-weight="normal" fill="#2b2b2b" transform="translate(363.20 398.00) rotate(-45) scale(0.95 1)" stroke="#2b2b2b" stroke-width="0.2">C2D1</text>
<line x1="370.90" y1="386.20" x2="370.90" y2="389.20" stroke="#1e1e1e" stroke-width="1.0"/>
<text x="0" y="0" font-size="7.4" text-anchor="end" font-weight="normal" fill="#2b2b2b" transform="translate(373.80 398.00) rotate(-45) scale(0.95 1)" stroke="#2b2b2b" stroke-width="0.2">C3D1</text>
<line x1="381.50" y1="386.20" x2="381.50" y2="389.20" stroke="#1e1e1e" stroke-width="1.0"/>
<text x="0" y="0" font-size="7.4" text-anchor="end" font-weight="normal" fill="#2b2b2b" transform="translate(384.40 398.00) rotate(-45) scale(0.95 1)" stroke="#2b2b2b" stroke-width="0.2">C4D1</text>
<line x1="392.10" y1="386.20" x2="392.10" y2="389.20" stroke="#1e1e1e" stroke-width="1.0"/>
<text x="0" y="0" font-size="7.4" text-anchor="end" font-weight="normal" fill="#2b2b2b" transform="translate(395.00 398.00) rotate(-45) scale(0.95 1)" stroke="#2b2b2b" stroke-width="0.2">C4D21</text>
<line x1="402.70" y1="386.20" x2="402.70" y2="389.20" stroke="#1e1e1e" stroke-width="1.0"/>
<text x="0" y="0" font-size="7.4" text-anchor="end" font-weight="normal" fill="#2b2b2b" transform="translate(405.60 398.00) rotate(-45) scale(0.95 1)" stroke="#2b2b2b" stroke-width="0.2">C5D1</text>
<line x1="413.30" y1="386.20" x2="413.30" y2="389.20" stroke="#1e1e1e" stroke-width="1.0"/>
<text x="0" y="0" font-size="7.4" text-anchor="end" font-weight="normal" fill="#2b2b2b" transform="translate(416.20 398.00) rotate(-45) scale(0.95 1)" stroke="#2b2b2b" stroke-width="0.2">C6D1</text>
<line x1="423.90" y1="386.20" x2="423.90" y2="389.20" stroke="#1e1e1e" stroke-width="1.0"/>
<text x="0" y="0" font-size="7.4" text-anchor="end" font-weight="normal" fill="#2b2b2b" transform="translate(426.80 398.00) rotate(-45) scale(0.95 1)" stroke="#2b2b2b" stroke-width="0.2">C6D21</text>
<line x1="434.50" y1="386.20" x2="434.50" y2="389.20" stroke="#1e1e1e" stroke-width="1.0"/>
<text x="0" y="0" font-size="7.4" text-anchor="end" font-weight="normal" fill="#2b2b2b" transform="translate(437.40 398.00) rotate(-45) scale(0.95 1)" stroke="#2b2b2b" stroke-width="0.2">C7D1</text>
<line x1="445.10" y1="386.20" x2="445.10" y2="389.20" stroke="#1e1e1e" stroke-width="1.0"/>
<text x="0" y="0" font-size="7.4" text-anchor="end" font-weight="normal" fill="#2b2b2b" transform="translate(448.00 398.00) rotate(-45) scale(0.95 1)" stroke="#2b2b2b" stroke-width="0.2">C7D21</text>
<text x="0" y="0" font-size="8.8" text-anchor="middle" font-weight="normal" fill="#2b2b2b" transform="translate(293.00 341.90) rotate(-90)" textLength="96.00" lengthAdjust="spacingAndGlyphs" stroke="#2b2b2b" stroke-width="0.3">Frequency of CD123+ blasts (%)</text>
<polyline points="317.90,372.80 328.50,363.60 339.10,371.40 349.70,369.80 360.30,367.90 370.90,367.70 381.50,355.00 392.10,372.10 402.70,373.00 413.30,358.90 423.90,327.10 434.50,357.10 445.10,347.40" fill="none" stroke="#34549a" stroke-width="1.0" stroke-linejoin="round"/>
<polyline points="317.90,372.80 349.70,358.30 392.10,373.60 445.10,339.40" fill="none" stroke="#d9342b" stroke-width="1.0" stroke-linejoin="round"/>
<rect x="316.00" y="358.70" width="3.8" height="3.8" fill="#c8102e"/>
<rect x="316.00" y="360.40" width="3.8" height="3.8" fill="#c8102e"/>
<rect x="316.00" y="362.10" width="3.8" height="3.8" fill="#c8102e"/>
<rect x="316.00" y="363.90" width="3.8" height="3.8" fill="#c8102e"/>
<rect x="347.80" y="321.70" width="3.8" height="3.8" fill="#c8102e"/>
<rect x="347.80" y="348.80" width="3.8" height="3.8" fill="#c8102e"/>
<rect x="347.80" y="351.50" width="3.8" height="3.8" fill="#c8102e"/>
<rect x="347.80" y="354.20" width="3.8" height="3.8" fill="#c8102e"/>
<rect x="347.80" y="356.90" width="3.8" height="3.8" fill="#c8102e"/>
<rect x="347.80" y="370.00" width="3.8" height="3.8" fill="#c8102e"/>
<rect x="347.80" y="371.90" width="3.8" height="3.8" fill="#c8102e"/>
<rect x="347.80" y="380.00" width="3.8" height="3.8" fill="#c8102e"/>
<rect x="390.20" y="302.60" width="3.8" height="3.8" fill="#c8102e"/>
<rect x="390.20" y="346.00" width="3.8" height="3.8" fill="#c8102e"/>
<rect x="390.20" y="358.70" width="3.8" height="3.8" fill="#c8102e"/>
<rect x="390.20" y="372.00" width="3.8" height="3.8" fill="#c8102e"/>
<rect x="390.20" y="383.50" width="3.8" height="3.8" fill="#c8102e"/>
<rect x="443.20" y="307.50" width="3.8" height="3.8" fill="#c8102e"/>
<rect x="443.20" y="368.50" width="3.8" height="3.8" fill="#c8102e"/>
<circle cx="317.90" cy="304.70" r="1.95" fill="#1d4374"/>
<circle cx="317.90" cy="309.40" r="1.95" fill="#1d4374"/>
<circle cx="317.90" cy="327.10" r="1.95" fill="#1d4374"/>
<circle cx="317.90" cy="342.90" r="1.95" fill="#1d4374"/>
<circle cx="317.90" cy="372.60" r="1.95" fill="#1d4374"/>
<circle cx="317.90" cy="373.40" r="1.95" fill="#1d4374"/>
<circle cx="317.90" cy="378.80" r="1.95" fill="#1d4374"/>
<circle cx="317.90" cy="380.50" r="1.95" fill="#1d4374"/>
<circle cx="317.90" cy="382.20" r="1.95" fill="#1d4374"/>
<circle cx="317.90" cy="384.00" r="1.95" fill="#1d4374"/>
<circle cx="328.50" cy="301.80" r="1.95" fill="#1d4374"/>
<circle cx="328.50" cy="308.00" r="1.95" fill="#1d4374"/>
<circle cx="328.50" cy="327.40" r="1.95" fill="#1d4374"/>
<circle cx="328.50" cy="332.40" r="1.95" fill="#1d4374"/>
<circle cx="328.50" cy="357.30" r="1.95" fill="#1d4374"/>
<circle cx="328.50" cy="362.50" r="1.95" fill="#1d4374"/>
<circle cx="328.50" cy="364.80" r="1.95" fill="#1d4374"/>
<circle cx="328.50" cy="374.00" r="1.95" fill="#1d4374"/>
<circle cx="328.50" cy="377.50" r="1.95" fill="#1d4374"/>
<circle cx="328.50" cy="382.10" r="1.95" fill="#1d4374"/>
<circle cx="328.50" cy="385.00" r="1.95" fill="#1d4374"/>
<circle cx="339.10" cy="354.10" r="1.95" fill="#1d4374"/>
<circle cx="339.10" cy="361.10" r="1.95" fill="#1d4374"/>
<circle cx="339.10" cy="368.80" r="1.95" fill="#1d4374"/>
<circle cx="339.10" cy="370.50" r="1.95" fill="#1d4374"/>
<circle cx="339.10" cy="372.30" r="1.95" fill="#1d4374"/>
<circle cx="339.10" cy="382.10" r="1.95" fill="#1d4374"/>
<circle cx="339.10" cy="384.00" r="1.95" fill="#1d4374"/>
<circle cx="339.10" cy="385.60" r="1.95" fill="#1d4374"/>
<circle cx="360.30" cy="299.40" r="1.95" fill="#1d4374"/>
<circle cx="360.30" cy="306.40" r="1.95" fill="#1d4374"/>
<circle cx="360.30" cy="320.90" r="1.95" fill="#1d4374"/>
<circle cx="360.30" cy="364.30" r="1.95" fill="#1d4374"/>
<circle cx="360.30" cy="366.80" r="1.95" fill="#1d4374"/>
<circle cx="360.30" cy="369.30" r="1.95" fill="#1d4374"/>
<circle cx="360.30" cy="376.00" r="1.95" fill="#1d4374"/>
<circle cx="360.30" cy="377.80" r="1.95" fill="#1d4374"/>
<circle cx="360.30" cy="385.00" r="1.95" fill="#1d4374"/>
<circle cx="370.90" cy="296.30" r="1.95" fill="#1d4374"/>
<circle cx="370.90" cy="307.10" r="1.95" fill="#1d4374"/>
<circle cx="370.90" cy="310.80" r="1.95" fill="#1d4374"/>
<circle cx="370.90" cy="355.00" r="1.95" fill="#1d4374"/>
<circle cx="370.90" cy="364.00" r="1.95" fill="#1d4374"/>
<circle cx="370.90" cy="367.50" r="1.95" fill="#1d4374"/>
<circle cx="370.90" cy="378.40" r="1.95" fill="#1d4374"/>
<circle cx="370.90" cy="381.00" r="1.95" fill="#1d4374"/>
<circle cx="370.90" cy="384.00" r="1.95" fill="#1d4374"/>
<circle cx="381.50" cy="297.40" r="1.95" fill="#1d4374"/>
<circle cx="381.50" cy="347.40" r="1.95" fill="#1d4374"/>
<circle cx="381.50" cy="349.20" r="1.95" fill="#1d4374"/>
<circle cx="381.50" cy="354.50" r="1.95" fill="#1d4374"/>
<circle cx="381.50" cy="355.70" r="1.95" fill="#1d4374"/>
<circle cx="381.50" cy="373.00" r="1.95" fill="#1d4374"/>
<circle cx="381.50" cy="379.70" r="1.95" fill="#1d4374"/>
<circle cx="381.50" cy="384.80" r="1.95" fill="#1d4374"/>
<circle cx="392.10" cy="367.70" r="1.95" fill="#1d4374"/>
<circle cx="392.10" cy="371.20" r="1.95" fill="#1d4374"/>
<circle cx="402.70" cy="297.00" r="1.95" fill="#1d4374"/>
<circle cx="402.70" cy="349.50" r="1.95" fill="#1d4374"/>
<circle cx="402.70" cy="374.80" r="1.95" fill="#1d4374"/>
<circle cx="402.70" cy="376.20" r="1.95" fill="#1d4374"/>
<circle cx="402.70" cy="381.30" r="1.95" fill="#1d4374"/>
<circle cx="402.70" cy="385.40" r="1.95" fill="#1d4374"/>
<circle cx="413.30" cy="298.30" r="1.95" fill="#1d4374"/>
<circle cx="413.30" cy="335.60" r="1.95" fill="#1d4374"/>
<circle cx="413.30" cy="358.90" r="1.95" fill="#1d4374"/>
<circle cx="413.30" cy="376.20" r="1.95" fill="#1d4374"/>
<circle cx="413.30" cy="385.40" r="1.95" fill="#1d4374"/>
<circle cx="423.90" cy="327.10" r="1.95" fill="#1d4374"/>
<circle cx="434.50" cy="329.20" r="1.95" fill="#1d4374"/>
<circle cx="434.50" cy="385.70" r="1.95" fill="#1d4374"/>
<circle cx="445.10" cy="347.40" r="1.95" fill="#1d4374"/>
<line x1="460.20" y1="322.40" x2="470.60" y2="322.40" stroke="#1d4374" stroke-width="1.0"/>
<circle cx="465.6" cy="322.4" r="1.9" fill="#1d4374"/>
<text x="0" y="0" font-size="7.5" text-anchor="start" font-weight="normal" fill="#2b2b2b" transform="translate(477.50 324.90) scale(0.91 1)" stroke="#2b2b2b" stroke-width="0.2">PB blasts</text>
<line x1="460.20" y1="333.30" x2="470.60" y2="333.30" stroke="#c8102e" stroke-width="1.0"/>
<rect x="463.7" y="331.4" width="3.8" height="3.8" fill="#c8102e"/>
<text x="0" y="0" font-size="7.5" text-anchor="start" font-weight="normal" fill="#2b2b2b" transform="translate(477.50 335.80) scale(0.91 1)" stroke="#2b2b2b" stroke-width="0.2">BMA blasts</text>
<line x1="73.40" y1="440.40" x2="73.40" y2="535.20" stroke="#1e1e1e" stroke-width="1.1"/>
<line x1="69.40" y1="534.60" x2="73.40" y2="534.60" stroke="#1e1e1e" stroke-width="1.0"/>
<text x="0" y="0" font-size="7.4" text-anchor="end" font-weight="normal" fill="#2b2b2b" transform="translate(66.80 537.30)" stroke="#2b2b2b" stroke-width="0.2">1000</text>
<line x1="69.40" y1="489.00" x2="73.40" y2="489.00" stroke="#1e1e1e" stroke-width="1.0"/>
<text x="0" y="0" font-size="7.4" text-anchor="end" font-weight="normal" fill="#2b2b2b" transform="translate(66.80 491.70)" stroke="#2b2b2b" stroke-width="0.2">10000</text>
<line x1="69.40" y1="443.40" x2="73.40" y2="443.40" stroke="#1e1e1e" stroke-width="1.0"/>
<text x="0" y="0" font-size="7.4" text-anchor="end" font-weight="normal" fill="#2b2b2b" transform="translate(66.80 446.10)" stroke="#2b2b2b" stroke-width="0.2">100000</text>
<line x1="71.60" y1="520.87" x2="73.40" y2="520.87" stroke="#1e1e1e" stroke-width="0.6"/>
<line x1="71.60" y1="512.84" x2="73.40" y2="512.84" stroke="#1e1e1e" stroke-width="0.6"/>
<line x1="71.60" y1="507.15" x2="73.40" y2="507.15" stroke="#1e1e1e" stroke-width="0.6"/>
<line x1="71.60" y1="502.73" x2="73.40" y2="502.73" stroke="#1e1e1e" stroke-width="0.6"/>
<line x1="71.60" y1="499.12" x2="73.40" y2="499.12" stroke="#1e1e1e" stroke-width="0.6"/>
<line x1="71.60" y1="496.06" x2="73.40" y2="496.06" stroke="#1e1e1e" stroke-width="0.6"/>
<line x1="71.60" y1="493.42" x2="73.40" y2="493.42" stroke="#1e1e1e" stroke-width="0.6"/>
<line x1="71.60" y1="491.09" x2="73.40" y2="491.09" stroke="#1e1e1e" stroke-width="0.6"/>
<line x1="71.60" y1="475.27" x2="73.40" y2="475.27" stroke="#1e1e1e" stroke-width="0.6"/>
<line x1="71.60" y1="467.24" x2="73.40" y2="467.24" stroke="#1e1e1e" stroke-width="0.6"/>
<line x1="71.60" y1="461.55" x2="73.40" y2="461.55" stroke="#1e1e1e" stroke-width="0.6"/>
<line x1="71.60" y1="457.13" x2="73.40" y2="457.13" stroke="#1e1e1e" stroke-width="0.6"/>
<line x1="71.60" y1="453.52" x2="73.40" y2="453.52" stroke="#1e1e1e" stroke-width="0.6"/>
<line x1="71.60" y1="450.46" x2="73.40" y2="450.46" stroke="#1e1e1e" stroke-width="0.6"/>
<line x1="71.60" y1="447.82" x2="73.40" y2="447.82" stroke="#1e1e1e" stroke-width="0.6"/>
<line x1="71.60" y1="445.49" x2="73.40" y2="445.49" stroke="#1e1e1e" stroke-width="0.6"/>
<line x1="72.80" y1="534.60" x2="212.00" y2="534.60" stroke="#1e1e1e" stroke-width="1.2"/>
<line x1="81.30" y1="534.60" x2="81.30" y2="537.60" stroke="#1e1e1e" stroke-width="1.0"/>
<text x="0" y="0" font-size="7.5" text-anchor="end" font-weight="normal" fill="#2b2b2b" transform="translate(84.30 545.00) rotate(-45) scale(0.95 1)" stroke="#2b2b2b" stroke-width="0.2">SCN</text>
<line x1="96.68" y1="534.60" x2="96.68" y2="537.60" stroke="#1e1e1e" stroke-width="1.0"/>
<text x="0" y="0" font-size="7.5" text-anchor="end" font-weight="normal" fill="#2b2b2b" transform="translate(99.68 545.00) rotate(-45) scale(0.95 1)" stroke="#2b2b2b" stroke-width="0.2">C1D1</text>
<line x1="112.06" y1="534.60" x2="112.06" y2="537.60" stroke="#1e1e1e" stroke-width="1.0"/>
<text x="0" y="0" font-size="7.5" text-anchor="end" font-weight="normal" fill="#2b2b2b" transform="translate(115.06 545.00) rotate(-45) scale(0.95 1)" stroke="#2b2b2b" stroke-width="0.2">C1D8</text>
<line x1="127.44" y1="534.60" x2="127.44" y2="537.60" stroke="#1e1e1e" stroke-width="1.0"/>
<text x="0" y="0" font-size="7.5" text-anchor="end" font-weight="normal" fill="#2b2b2b" transform="translate(130.44 545.00) rotate(-45) scale(0.95 1)" stroke="#2b2b2b" stroke-width="0.2">C2D1</text>
<line x1="142.82" y1="534.60" x2="142.82" y2="537.60" stroke="#1e1e1e" stroke-width="1.0"/>
<text x="0" y="0" font-size="7.5" text-anchor="end" font-weight="normal" fill="#2b2b2b" transform="translate(145.82 545.00) rotate(-45) scale(0.95 1)" stroke="#2b2b2b" stroke-width="0.2">C3D1</text>
<line x1="158.20" y1="534.60" x2="158.20" y2="537.60" stroke="#1e1e1e" stroke-width="1.0"/>
<text x="0" y="0" font-size="7.5" text-anchor="end" font-weight="normal" fill="#2b2b2b" transform="translate(161.20 545.00) rotate(-45) scale(0.95 1)" stroke="#2b2b2b" stroke-width="0.2">C4D1</text>
<line x1="173.58" y1="534.60" x2="173.58" y2="537.60" stroke="#1e1e1e" stroke-width="1.0"/>
<text x="0" y="0" font-size="7.5" text-anchor="end" font-weight="normal" fill="#2b2b2b" transform="translate(176.58 545.00) rotate(-45) scale(0.95 1)" stroke="#2b2b2b" stroke-width="0.2">C5D1</text>
<line x1="188.96" y1="534.60" x2="188.96" y2="537.60" stroke="#1e1e1e" stroke-width="1.0"/>
<text x="0" y="0" font-size="7.5" text-anchor="end" font-weight="normal" fill="#2b2b2b" transform="translate(191.96 545.00) rotate(-45) scale(0.95 1)" stroke="#2b2b2b" stroke-width="0.2">C6D1</text>
<line x1="204.34" y1="534.60" x2="204.34" y2="537.60" stroke="#1e1e1e" stroke-width="1.0"/>
<text x="0" y="0" font-size="7.5" text-anchor="end" font-weight="normal" fill="#2b2b2b" transform="translate(207.34 545.00) rotate(-45) scale(0.95 1)" stroke="#2b2b2b" stroke-width="0.2">C7D1</text>
<text x="0" y="0" font-size="9.0" text-anchor="middle" font-weight="normal" fill="#2b2b2b" transform="translate(25.00 488.60) rotate(-90)" textLength="61.50" lengthAdjust="spacingAndGlyphs" stroke="#2b2b2b" stroke-width="0.3">Molecules of equivalent</text>
<text x="0" y="0" font-size="9.0" text-anchor="middle" font-weight="normal" fill="#2b2b2b" transform="translate(38.20 489.60) rotate(-90)" textLength="60.00" lengthAdjust="spacingAndGlyphs" stroke="#2b2b2b" stroke-width="0.3">soluble fluorochrome</text>
<polyline points="81.30,481.90 96.68,475.00 112.06,483.00 127.44,485.80 142.82,487.80 158.20,481.60 173.58,487.80 188.96,475.50 204.34,478.10" fill="none" stroke="#2a4a8a" stroke-width="1.0" stroke-linejoin="round"/>
<circle cx="81.30" cy="469.20" r="1.75" fill="#1c4579"/>
<circle cx="81.30" cy="471.60" r="1.75" fill="#1c4579"/>
<circle cx="81.30" cy="474.20" r="1.75" fill="#1c4579"/>
<circle cx="81.30" cy="477.30" r="1.75" fill="#1c4579"/>
<circle cx="81.30" cy="479.60" r="1.75" fill="#1c4579"/>
<circle cx="81.30" cy="482.40" r="1.75" fill="#1c4579"/>
<circle cx="81.30" cy="486.50" r="1.75" fill="#1c4579"/>
<circle cx="81.30" cy="488.50" r="1.75" fill="#1c4579"/>
<circle cx="81.30" cy="490.70" r="1.75" fill="#1c4579"/>
<circle cx="81.30" cy="493.50" r="1.75" fill="#1c4579"/>
<circle cx="96.68" cy="465.50" r="1.75" fill="#1c4579"/>
<circle cx="96.68" cy="469.20" r="1.75" fill="#1c4579"/>
<circle cx="96.68" cy="473.80" r="1.75" fill="#1c4579"/>
<circle cx="96.68" cy="479.60" r="1.75" fill="#1c4579"/>
<circle cx="96.68" cy="489.20" r="1.75" fill="#1c4579"/>
<circle cx="96.68" cy="491.90" r="1.75" fill="#1c4579"/>
<circle cx="96.68" cy="495.30" r="1.75" fill="#1c4579"/>
<circle cx="112.06" cy="469.60" r="1.75" fill="#1c4579"/>
<circle cx="112.06" cy="471.90" r="1.75" fill="#1c4579"/>
<circle cx="112.06" cy="474.20" r="1.75" fill="#1c4579"/>
<circle cx="112.06" cy="476.80" r="1.75" fill="#1c4579"/>
<circle cx="112.06" cy="479.60" r="1.75" fill="#1c4579"/>
<circle cx="112.06" cy="487.30" r="1.75" fill="#1c4579"/>
<circle cx="112.06" cy="492.70" r="1.75" fill="#1c4579"/>
<circle cx="112.06" cy="496.50" r="1.75" fill="#1c4579"/>
<circle cx="112.06" cy="499.60" r="1.75" fill="#1c4579"/>
<circle cx="127.44" cy="467.00" r="1.75" fill="#1c4579"/>
<circle cx="127.44" cy="474.20" r="1.75" fill="#1c4579"/>
<circle cx="127.44" cy="478.00" r="1.75" fill="#1c4579"/>
<circle cx="127.44" cy="483.50" r="1.75" fill="#1c4579"/>
<circle cx="127.44" cy="485.50" r="1.75" fill="#1c4579"/>
<circle cx="127.44" cy="487.30" r="1.75" fill="#1c4579"/>
<circle cx="127.44" cy="489.20" r="1.75" fill="#1c4579"/>
<circle cx="127.44" cy="491.60" r="1.75" fill="#1c4579"/>
<circle cx="127.44" cy="494.20" r="1.75" fill="#1c4579"/>
<circle cx="127.44" cy="499.60" r="1.75" fill="#1c4579"/>
<circle cx="142.82" cy="470.40" r="1.75" fill="#1c4579"/>
<circle cx="142.82" cy="472.40" r="1.75" fill="#1c4579"/>
<circle cx="142.82" cy="477.00" r="1.75" fill="#1c4579"/>
<circle cx="142.82" cy="478.80" r="1.75" fill="#1c4579"/>
<circle cx="142.82" cy="488.10" r="1.75" fill="#1c4579"/>
<circle cx="142.82" cy="490.40" r="1.75" fill="#1c4579"/>
<circle cx="142.82" cy="492.70" r="1.75" fill="#1c4579"/>
<circle cx="142.82" cy="495.00" r="1.75" fill="#1c4579"/>
<circle cx="142.82" cy="498.10" r="1.75" fill="#1c4579"/>
<circle cx="158.20" cy="468.80" r="1.75" fill="#1c4579"/>
<circle cx="158.20" cy="473.90" r="1.75" fill="#1c4579"/>
<circle cx="158.20" cy="475.80" r="1.75" fill="#1c4579"/>
<circle cx="158.20" cy="477.60" r="1.75" fill="#1c4579"/>
<circle cx="158.20" cy="485.30" r="1.75" fill="#1c4579"/>
<circle cx="158.20" cy="489.60" r="1.75" fill="#1c4579"/>
<circle cx="158.20" cy="491.90" r="1.75" fill="#1c4579"/>
<circle cx="158.20" cy="494.20" r="1.75" fill="#1c4579"/>
<circle cx="173.58" cy="452.70" r="1.75" fill="#1c4579"/>
<circle cx="173.58" cy="475.00" r="1.75" fill="#1c4579"/>
<circle cx="173.58" cy="477.30" r="1.75" fill="#1c4579"/>
<circle cx="173.58" cy="487.30" r="1.75" fill="#1c4579"/>
<circle cx="173.58" cy="489.60" r="1.75" fill="#1c4579"/>
<circle cx="173.58" cy="491.90" r="1.75" fill="#1c4579"/>
<circle cx="173.58" cy="494.20" r="1.75" fill="#1c4579"/>
<circle cx="173.58" cy="497.30" r="1.75" fill="#1c4579"/>
<circle cx="188.96" cy="464.20" r="1.75" fill="#1c4579"/>
<circle cx="188.96" cy="472.40" r="1.75" fill="#1c4579"/>
<circle cx="188.96" cy="474.50" r="1.75" fill="#1c4579"/>
<circle cx="188.96" cy="493.90" r="1.75" fill="#1c4579"/>
<circle cx="188.96" cy="505.00" r="1.75" fill="#1c4579"/>
<circle cx="204.34" cy="467.60" r="1.75" fill="#1c4579"/>
<circle cx="204.34" cy="478.50" r="1.75" fill="#1c4579"/>
<circle cx="204.34" cy="481.20" r="1.75" fill="#1c4579"/>
<line x1="208.10" y1="449.10" x2="218.20" y2="449.10" stroke="#1c4579" stroke-width="1.0"/>
<circle cx="213.3" cy="449.1" r="1.9" fill="#1c4579"/>
<text x="0" y="0" font-size="7.6" text-anchor="start" font-weight="normal" fill="#2b2b2b" transform="translate(224.80 451.20) scale(0.91 1)" stroke="#2b2b2b" stroke-width="0.2">PB blasts</text>
<line x1="316.60" y1="440.40" x2="316.60" y2="484.80" stroke="#1e1e1e" stroke-width="1.2"/>
<line x1="315.10" y1="484.70" x2="318.90" y2="484.70" stroke="#1e1e1e" stroke-width="1.0"/>
<line x1="313.10" y1="443.30" x2="316.60" y2="443.30" stroke="#1e1e1e" stroke-width="1.0"/>
<text x="0" y="0" font-size="7.4" text-anchor="end" font-weight="normal" fill="#2b2b2b" transform="translate(310.00 446.00)" stroke="#2b2b2b" stroke-width="0.2">100</text>
<line x1="313.10" y1="457.50" x2="316.60" y2="457.50" stroke="#1e1e1e" stroke-width="1.0"/>
<text x="0" y="0" font-size="7.4" text-anchor="end" font-weight="normal" fill="#2b2b2b" transform="translate(310.00 460.20)" stroke="#2b2b2b" stroke-width="0.2">95</text>
<line x1="313.10" y1="471.10" x2="316.60" y2="471.10" stroke="#1e1e1e" stroke-width="1.0"/>
<text x="0" y="0" font-size="7.4" text-anchor="end" font-weight="normal" fill="#2b2b2b" transform="translate(310.00 473.80)" stroke="#2b2b2b" stroke-width="0.2">90</text>
<line x1="313.10" y1="484.70" x2="316.60" y2="484.70" stroke="#1e1e1e" stroke-width="1.0"/>
<text x="0" y="0" font-size="7.4" text-anchor="end" font-weight="normal" fill="#2b2b2b" transform="translate(310.00 487.40)" stroke="#2b2b2b" stroke-width="0.2">85</text>
<line x1="316.60" y1="492.70" x2="316.60" y2="535.40" stroke="#1e1e1e" stroke-width="1.2"/>
<line x1="315.10" y1="492.70" x2="318.90" y2="492.70" stroke="#1e1e1e" stroke-width="1.0"/>
<line x1="313.10" y1="500.80" x2="316.60" y2="500.80" stroke="#1e1e1e" stroke-width="1.0"/>
<text x="0" y="0" font-size="7.4" text-anchor="end" font-weight="normal" fill="#2b2b2b" transform="translate(310.00 503.50)" stroke="#2b2b2b" stroke-width="0.2">4</text>
<line x1="313.10" y1="518.00" x2="316.60" y2="518.00" stroke="#1e1e1e" stroke-width="1.0"/>
<text x="0" y="0" font-size="7.4" text-anchor="end" font-weight="normal" fill="#2b2b2b" transform="translate(310.00 520.70)" stroke="#2b2b2b" stroke-width="0.2">2</text>
<line x1="313.10" y1="534.80" x2="316.60" y2="534.80" stroke="#1e1e1e" stroke-width="1.0"/>
<text x="0" y="0" font-size="7.4" text-anchor="end" font-weight="normal" fill="#2b2b2b" transform="translate(310.00 537.50)" stroke="#2b2b2b" stroke-width="0.2">0</text>
<line x1="316.00" y1="534.80" x2="454.00" y2="534.80" stroke="#1e1e1e" stroke-width="1.2"/>
<line x1="323.40" y1="534.80" x2="323.40" y2="537.80" stroke="#1e1e1e" stroke-width="1.0"/>
<text x="0" y="0" font-size="7.5" text-anchor="end" font-weight="normal" fill="#2b2b2b" transform="translate(326.00 546.10) rotate(-45) scale(0.95 1)" stroke="#2b2b2b" stroke-width="0.2">SCN</text>
<line x1="337.10" y1="534.80" x2="337.10" y2="537.80" stroke="#1e1e1e" stroke-width="1.0"/>
<text x="0" y="0" font-size="7.5" text-anchor="end" font-weight="normal" fill="#2b2b2b" transform="translate(339.70 546.10) rotate(-45) scale(0.95 1)" stroke="#2b2b2b" stroke-width="0.2">C1D1</text>
<line x1="350.80" y1="534.80" x2="350.80" y2="537.80" stroke="#1e1e1e" stroke-width="1.0"/>
<text x="0" y="0" font-size="7.5" text-anchor="end" font-weight="normal" fill="#2b2b2b" transform="translate(353.40 546.10) rotate(-45) scale(0.95 1)" stroke="#2b2b2b" stroke-width="0.2">C1D8</text>
<line x1="364.50" y1="534.80" x2="364.50" y2="537.80" stroke="#1e1e1e" stroke-width="1.0"/>
<text x="0" y="0" font-size="7.5" text-anchor="end" font-weight="normal" fill="#2b2b2b" transform="translate(367.10 546.10) rotate(-45) scale(0.95 1)" stroke="#2b2b2b" stroke-width="0.2">C2D1</text>
<line x1="378.20" y1="534.80" x2="378.20" y2="537.80" stroke="#1e1e1e" stroke-width="1.0"/>
<text x="0" y="0" font-size="7.5" text-anchor="end" font-weight="normal" fill="#2b2b2b" transform="translate(380.80 546.10) rotate(-45) scale(0.95 1)" stroke="#2b2b2b" stroke-width="0.2">C3D1</text>
<line x1="391.90" y1="534.80" x2="391.90" y2="537.80" stroke="#1e1e1e" stroke-width="1.0"/>
<text x="0" y="0" font-size="7.5" text-anchor="end" font-weight="normal" fill="#2b2b2b" transform="translate(394.50 546.10) rotate(-45) scale(0.95 1)" stroke="#2b2b2b" stroke-width="0.2">C4D1</text>
<line x1="405.60" y1="534.80" x2="405.60" y2="537.80" stroke="#1e1e1e" stroke-width="1.0"/>
<text x="0" y="0" font-size="7.5" text-anchor="end" font-weight="normal" fill="#2b2b2b" transform="translate(408.20 546.10) rotate(-45) scale(0.95 1)" stroke="#2b2b2b" stroke-width="0.2">C5D1</text>
<line x1="419.30" y1="534.80" x2="419.30" y2="537.80" stroke="#1e1e1e" stroke-width="1.0"/>
<text x="0" y="0" font-size="7.5" text-anchor="end" font-weight="normal" fill="#2b2b2b" transform="translate(421.90 546.10) rotate(-45) scale(0.95 1)" stroke="#2b2b2b" stroke-width="0.2">C6D1</text>
<line x1="433.00" y1="534.80" x2="433.00" y2="537.80" stroke="#1e1e1e" stroke-width="1.0"/>
<text x="0" y="0" font-size="7.5" text-anchor="end" font-weight="normal" fill="#2b2b2b" transform="translate(435.60 546.10) rotate(-45) scale(0.95 1)" stroke="#2b2b2b" stroke-width="0.2">C7D1</text>
<line x1="446.70" y1="534.80" x2="446.70" y2="537.80" stroke="#1e1e1e" stroke-width="1.0"/>
<text x="0" y="0" font-size="7.5" text-anchor="end" font-weight="normal" fill="#2b2b2b" transform="translate(449.30 546.10) rotate(-45) scale(0.95 1)" stroke="#2b2b2b" stroke-width="0.2">C8D1</text>
<text x="0" y="0" font-size="8.6" text-anchor="middle" font-weight="normal" fill="#2b2b2b" transform="translate(292.20 492.90) rotate(-90)" textLength="82.40" lengthAdjust="spacingAndGlyphs" stroke="#2b2b2b" stroke-width="0.3">Frequency of monocytes (%)</text>
<line x1="317.6" y1="459.8" x2="454.5" y2="459.8" stroke="#333" stroke-width="1" stroke-dasharray="1 1.1"/>
<line x1="317.6" y1="525.3" x2="454.5" y2="525.3" stroke="#333" stroke-width="1" stroke-dasharray="1 1.1"/>
<text x="0" y="0" font-size="7.6" text-anchor="start" font-weight="normal" fill="#2b2b2b" transform="translate(457.30 462.20) scale(0.95 1)" stroke="#2b2b2b" stroke-width="0.2">94%</text>
<text x="0" y="0" font-size="7.6" text-anchor="start" font-weight="normal" fill="#2b2b2b" transform="translate(457.50 527.90) scale(0.95 1)" stroke="#2b2b2b" stroke-width="0.2">1.13%</text>
<polyline points="323.40,447.60 337.10,448.40 350.80,446.10 364.50,446.50 378.20,444.80 391.90,445.80 405.60,446.50 419.30,447.10 433.00,446.50 446.70,448.40" fill="none" stroke="#2862a2" stroke-width="1.0" stroke-linejoin="round"/>
<polyline points="323.40,529.30 337.10,531.10 350.80,530.60 364.50,526.00 378.20,531.90 391.90,531.90 405.60,531.10 419.30,525.60 433.00,526.30 446.70,524.40" fill="none" stroke="#cc1f45" stroke-width="1.0" stroke-linejoin="round"/>
<circle cx="323.40" cy="443.40" r="1.4" fill="#1f5590"/>
<circle cx="323.40" cy="445.00" r="1.4" fill="#1f5590"/>
<circle cx="323.40" cy="446.70" r="1.4" fill="#1f5590"/>
<circle cx="323.40" cy="448.50" r="1.4" fill="#1f5590"/>
<circle cx="323.40" cy="450.20" r="1.4" fill="#1f5590"/>
<circle cx="323.40" cy="452.00" r="1.4" fill="#1f5590"/>
<circle cx="323.40" cy="453.50" r="1.4" fill="#1f5590"/>
<circle cx="323.40" cy="456.00" r="1.4" fill="#1f5590"/>
<circle cx="337.10" cy="443.40" r="1.4" fill="#1f5590"/>
<circle cx="337.10" cy="445.20" r="1.4" fill="#1f5590"/>
<circle cx="337.10" cy="447.10" r="1.4" fill="#1f5590"/>
<circle cx="337.10" cy="449.00" r="1.4" fill="#1f5590"/>
<circle cx="337.10" cy="450.80" r="1.4" fill="#1f5590"/>
<circle cx="337.10" cy="453.60" r="1.4" fill="#1f5590"/>
<circle cx="350.80" cy="443.40" r="1.4" fill="#1f5590"/>
<circle cx="350.80" cy="445.20" r="1.4" fill="#1f5590"/>
<circle cx="350.80" cy="447.10" r="1.4" fill="#1f5590"/>
<circle cx="350.80" cy="449.00" r="1.4" fill="#1f5590"/>
<circle cx="350.80" cy="450.80" r="1.4" fill="#1f5590"/>
<circle cx="350.80" cy="454.10" r="1.4" fill="#1f5590"/>
<circle cx="364.50" cy="443.40" r="1.4" fill="#1f5590"/>
<circle cx="364.50" cy="445.20" r="1.4" fill="#1f5590"/>
<circle cx="364.50" cy="447.10" r="1.4" fill="#1f5590"/>
<circle cx="364.50" cy="452.60" r="1.4" fill="#1f5590"/>
<circle cx="364.50" cy="454.50" r="1.4" fill="#1f5590"/>
<circle cx="364.50" cy="460.00" r="1.4" fill="#1f5590"/>
<circle cx="364.50" cy="479.50" r="1.4" fill="#1f5590"/>
<circle cx="378.20" cy="443.40" r="1.4" fill="#1f5590"/>
<circle cx="378.20" cy="445.20" r="1.4" fill="#1f5590"/>
<circle cx="378.20" cy="447.10" r="1.4" fill="#1f5590"/>
<circle cx="378.20" cy="464.70" r="1.4" fill="#1f5590"/>
<circle cx="391.90" cy="443.40" r="1.4" fill="#1f5590"/>
<circle cx="391.90" cy="445.20" r="1.4" fill="#1f5590"/>
<circle cx="391.90" cy="447.10" r="1.4" fill="#1f5590"/>
<circle cx="391.90" cy="457.00" r="1.4" fill="#1f5590"/>
<circle cx="405.60" cy="443.90" r="1.4" fill="#1f5590"/>
<circle cx="405.60" cy="445.80" r="1.4" fill="#1f5590"/>
<circle cx="405.60" cy="447.60" r="1.4" fill="#1f5590"/>
<circle cx="405.60" cy="451.70" r="1.4" fill="#1f5590"/>
<circle cx="419.30" cy="444.30" r="1.4" fill="#1f5590"/>
<circle cx="419.30" cy="446.10" r="1.4" fill="#1f5590"/>
<circle cx="419.30" cy="448.00" r="1.4" fill="#1f5590"/>
<circle cx="419.30" cy="451.30" r="1.4" fill="#1f5590"/>
<circle cx="433.00" cy="446.50" r="1.4" fill="#1f5590"/>
<circle cx="446.70" cy="447.60" r="1.4" fill="#1f5590"/>
<circle cx="446.70" cy="449.50" r="1.4" fill="#1f5590"/>
<circle cx="323.40" cy="499.00" r="1.4" fill="#c8153c"/>
<circle cx="323.40" cy="513.00" r="1.4" fill="#c8153c"/>
<circle cx="323.40" cy="521.30" r="1.4" fill="#c8153c"/>
<circle cx="323.40" cy="523.00" r="1.4" fill="#c8153c"/>
<circle cx="323.40" cy="529.70" r="1.4" fill="#c8153c"/>
<circle cx="323.40" cy="533.40" r="1.4" fill="#c8153c"/>
<circle cx="337.10" cy="514.80" r="1.4" fill="#c8153c"/>
<circle cx="337.10" cy="516.70" r="1.4" fill="#c8153c"/>
<circle cx="337.10" cy="520.80" r="1.4" fill="#c8153c"/>
<circle cx="337.10" cy="529.70" r="1.4" fill="#c8153c"/>
<circle cx="337.10" cy="531.50" r="1.4" fill="#c8153c"/>
<circle cx="337.10" cy="533.40" r="1.4" fill="#c8153c"/>
<circle cx="350.80" cy="508.90" r="1.4" fill="#c8153c"/>
<circle cx="350.80" cy="517.20" r="1.4" fill="#c8153c"/>
<circle cx="350.80" cy="525.00" r="1.4" fill="#c8153c"/>
<circle cx="350.80" cy="526.90" r="1.4" fill="#c8153c"/>
<circle cx="350.80" cy="531.50" r="1.4" fill="#c8153c"/>
<circle cx="350.80" cy="533.70" r="1.4" fill="#c8153c"/>
<circle cx="364.50" cy="502.70" r="1.4" fill="#c8153c"/>
<circle cx="364.50" cy="504.60" r="1.4" fill="#c8153c"/>
<circle cx="364.50" cy="519.50" r="1.4" fill="#c8153c"/>
<circle cx="364.50" cy="522.20" r="1.4" fill="#c8153c"/>
<circle cx="364.50" cy="525.90" r="1.4" fill="#c8153c"/>
<circle cx="364.50" cy="529.70" r="1.4" fill="#c8153c"/>
<circle cx="364.50" cy="533.40" r="1.4" fill="#c8153c"/>
<circle cx="378.20" cy="527.80" r="1.4" fill="#c8153c"/>
<circle cx="378.20" cy="529.70" r="1.4" fill="#c8153c"/>
<circle cx="378.20" cy="531.50" r="1.4" fill="#c8153c"/>
<circle cx="378.20" cy="533.40" r="1.4" fill="#c8153c"/>
<circle cx="391.90" cy="496.20" r="1.4" fill="#c8153c"/>
<circle cx="391.90" cy="527.80" r="1.4" fill="#c8153c"/>
<circle cx="391.90" cy="529.70" r="1.4" fill="#c8153c"/>
<circle cx="391.90" cy="531.50" r="1.4" fill="#c8153c"/>
<circle cx="391.90" cy="533.40" r="1.4" fill="#c8153c"/>
<circle cx="405.60" cy="516.30" r="1.4" fill="#c8153c"/>
<circle cx="405.60" cy="523.10" r="1.4" fill="#c8153c"/>
<circle cx="405.60" cy="531.00" r="1.4" fill="#c8153c"/>
<circle cx="405.60" cy="532.80" r="1.4" fill="#c8153c"/>
<circle cx="419.30" cy="514.80" r="1.4" fill="#c8153c"/>
<circle cx="419.30" cy="525.60" r="1.4" fill="#c8153c"/>
<circle cx="419.30" cy="531.50" r="1.4" fill="#c8153c"/>
<circle cx="419.30" cy="533.40" r="1.4" fill="#c8153c"/>
<circle cx="433.00" cy="526.30" r="1.4" fill="#c8153c"/>
<circle cx="433.00" cy="527.20" r="1.4" fill="#c8153c"/>
<circle cx="446.70" cy="520.00" r="1.4" fill="#c8153c"/>
<circle cx="446.70" cy="528.20" r="1.4" fill="#c8153c"/>
<line x1="476.10" y1="446.70" x2="485.70" y2="446.70" stroke="#1f5590" stroke-width="1.2"/>
<circle cx="481.2" cy="446.7" r="1.3" fill="#1f5590"/>
<text x="0" y="0" font-size="7.6" text-anchor="start" font-weight="normal" fill="#2b2b2b" transform="translate(492.90 449.00) scale(0.93 1)" stroke="#2b2b2b" stroke-width="0.2">M01</text>
<line x1="476.10" y1="457.90" x2="485.70" y2="457.90" stroke="#c8153c" stroke-width="1.2"/>
<circle cx="481.2" cy="457.9" r="1.3" fill="#c8153c"/>
<text x="0" y="0" font-size="7.6" text-anchor="start" font-weight="normal" fill="#2b2b2b" transform="translate(492.90 460.20) scale(0.93 1)" stroke="#2b2b2b" stroke-width="0.2">M03</text>
</svg><div id="b"></div></div></body></html>
